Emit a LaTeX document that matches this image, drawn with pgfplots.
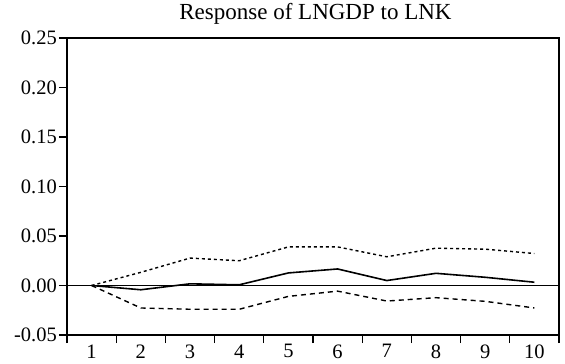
\documentclass[border=0pt]{standalone}
\usepackage{pgfplots}
\pgfplotsset{compat=1.18}
\usepackage{fontspec}
\setmainfont{Liberation Serif}
\begin{document}
\begin{tikzpicture}
\begin{axis}[
  scale only axis,
  width=492pt, height=297pt,
  xmin=0.5, xmax=10.5,
  ymin=-0.05, ymax=0.25,
  axis line style={line width=1.3pt},
  tick pos=left,
  tick align=outside,
  major tick length=8pt,
  every tick/.style={black, line width=1.3pt},
  xtick={0.5,1.5,...,10.5},
  xticklabels={},
  extra x ticks={1,2,3,4,5,6,7,8,9,10},
  extra x tick labels={1,2,3,4,5,6,7,8,9,10},
  extra x tick style={major tick length=0pt, tick style={draw=none}, xticklabel style={yshift=-6pt}},
  ytick={-0.05,0,0.05,0.10,0.15,0.20,0.25},
  /pgf/number format/assume math mode=true,
  yticklabel style={/pgf/number format/fixed, /pgf/number format/fixed zerofill, /pgf/number format/precision=2, font=\fontsize{20.5}{22}\selectfont, inner sep=2pt},
  xticklabel style={font=\fontsize{20.5}{22}\selectfont},
  title={Response of LNGDP to LNK},
  title style={at={(0.505,1)}, anchor=base, yshift=12pt, font=\fontsize{23}{25}\selectfont},
  clip=false,
]
\addplot[black, line width=0.9pt, forget plot] coordinates {(0.5,0) (10.5,0)};
\addplot[black, line width=1.6pt] coordinates {
 (1,0) (2,-0.0043) (3,0.0017) (4,0.0007) (5,0.0127) (6,0.0167) (7,0.005) (8,0.0123) (9,0.0083) (10,0.0033)};
\addplot[black, line width=1.4pt, dash pattern=on 3pt off 3pt] coordinates {
 (1,0) (2,0.0133) (3,0.0277) (4,0.025) (5,0.039) (6,0.039) (7,0.029) (8,0.0377) (9,0.0367) (10,0.0323)};
\addplot[black, line width=1.4pt, dash pattern=on 5pt off 4pt] coordinates {
 (1,0) (2,-0.0227) (3,-0.024) (4,-0.024) (5,-0.011) (6,-0.0057) (7,-0.0157) (8,-0.0123) (9,-0.016) (10,-0.0227)};
\end{axis}
\pgfresetboundingbox
\path (current axis.south west) ++(-67pt,-29pt) coordinate (bbA);
\path (current axis.north east) ++(6pt,38pt) coordinate (bbB);
\path (bbA) rectangle (bbB);
\end{tikzpicture}
\end{document}
